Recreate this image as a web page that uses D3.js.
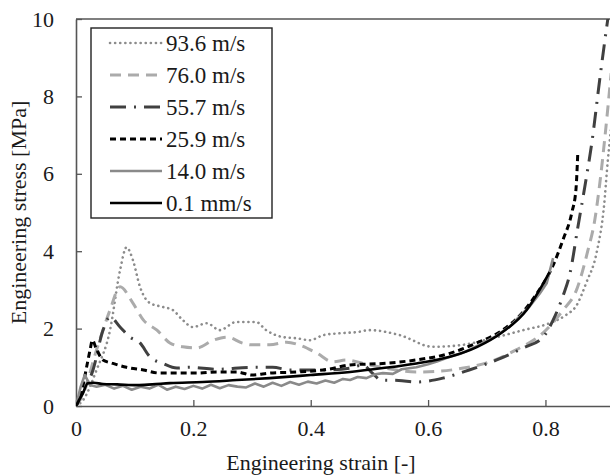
<!DOCTYPE html>
<html>
<head>
<meta charset="utf-8">
<script src="https://cdn.jsdelivr.net/npm/d3@7"></script>
<style>
    body { margin: 0; background: #fff; }
    svg, svg text { font-family: "Liberation Serif", "Times New Roman", Times, Tinos, "DejaVu Serif", "Noto Serif", serif !important; }
    text { fill: #1a1a1a; }
</style>
</head>
<body>
<div id="chart"></div>
<script>
// legend labels, top to bottom
var seriesNames = ["93.6 m/s", "76.0 m/s", "55.7 m/s", "25.9 m/s", "14.0 m/s", "0.1 mm/s"];
var xTicks = [0, 0.2, 0.4, 0.6, 0.8];
var yTicks = [0, 2, 4, 6, 8, 10];

// [strain, stress MPa]
var v936 = [[0,0],[0.012,0.15],[0.035,0.93],[0.058,1.96],[0.075,3.5],[0.086,4.1],[0.097,3.77],[0.109,3.08],[0.126,2.66],[0.148,2.56],[0.165,2.48],[0.182,2.22],[0.199,2.04],[0.223,2.14],[0.245,1.96],[0.273,2.17],[0.307,2.17],[0.324,1.96],[0.353,1.78],[0.376,1.75],[0.399,1.7],[0.421,1.83],[0.45,1.88],[0.479,1.91],[0.5,1.96],[0.552,1.83],[0.608,1.53],[0.654,1.57],[0.717,1.78],[0.762,1.96],[0.807,2.14],[0.835,2.35],[0.853,2.6],[0.87,3.2],[0.887,3.95],[0.9,5.2],[0.906,6.3],[0.912,7.2]];
var v760 = [[0,0],[0.012,0.3],[0.035,1.45],[0.058,2.48],[0.075,3.08],[0.097,2.66],[0.115,2.22],[0.138,1.96],[0.16,1.63],[0.182,1.53],[0.206,1.5],[0.234,1.7],[0.257,1.78],[0.285,1.62],[0.3,1.58],[0.33,1.58],[0.359,1.65],[0.38,1.58],[0.41,1.37],[0.438,1.14],[0.46,1.19],[0.489,1.1],[0.52,1.0],[0.58,0.88],[0.62,0.9],[0.66,0.98],[0.705,1.14],[0.75,1.45],[0.796,1.89],[0.83,2.48],[0.853,3.0],[0.872,4.0],[0.884,4.8],[0.893,5.8],[0.901,6.9],[0.912,8.6]];
var v557 = [[0,0],[0.012,0.35],[0.029,0.93],[0.046,1.96],[0.058,2.3],[0.075,2.04],[0.092,1.78],[0.109,1.63],[0.126,1.27],[0.148,1.1],[0.172,0.98],[0.194,1.0],[0.24,0.95],[0.3,1.0],[0.335,1.0],[0.365,0.93],[0.427,0.93],[0.467,0.98],[0.489,1.06],[0.505,0.85],[0.52,0.67],[0.55,0.66],[0.58,0.62],[0.625,0.72],[0.67,0.93],[0.717,1.19],[0.762,1.5],[0.796,1.78],[0.813,2.22],[0.83,2.85],[0.842,3.44],[0.855,4.6],[0.867,5.66],[0.879,6.8],[0.893,8.5],[0.906,9.97],[0.912,10.6]];
var v259 = [[0,0],[0.01,0.4],[0.018,1.0],[0.024,1.45],[0.028,1.7],[0.034,1.5],[0.046,1.19],[0.063,1.1],[0.086,1.0],[0.115,0.93],[0.143,0.85],[0.172,0.85],[0.206,0.85],[0.24,0.88],[0.274,0.88],[0.3,0.8],[0.33,0.85],[0.38,0.88],[0.43,0.95],[0.467,1.06],[0.523,1.1],[0.58,1.19],[0.637,1.36],[0.683,1.63],[0.727,1.96],[0.76,2.4],[0.785,2.9],[0.812,3.6],[0.83,4.3],[0.845,5.0],[0.852,5.6],[0.855,6.5]];
var v140 = [[0,0],[0.008,0.5],[0.015,0.8],[0.024,0.54],[0.035,0.5],[0.05,0.55],[0.065,0.45],[0.08,0.52],[0.095,0.42],[0.11,0.5],[0.125,0.45],[0.14,0.55],[0.155,0.42],[0.17,0.5],[0.185,0.44],[0.2,0.52],[0.215,0.45],[0.23,0.55],[0.245,0.46],[0.26,0.54],[0.275,0.5],[0.29,0.48],[0.305,0.58],[0.32,0.5],[0.335,0.6],[0.35,0.52],[0.365,0.62],[0.38,0.55],[0.395,0.63],[0.41,0.58],[0.425,0.66],[0.44,0.6],[0.455,0.7],[0.467,0.67],[0.48,0.75],[0.495,0.72],[0.51,0.82],[0.523,0.85],[0.54,0.83],[0.555,0.95],[0.58,1.0],[0.6,1.08],[0.615,1.15],[0.637,1.27],[0.655,1.35],[0.67,1.45],[0.694,1.63],[0.715,1.8],[0.739,2.05],[0.755,2.3],[0.773,2.57],[0.79,2.9],[0.802,3.17],[0.813,3.82]];
var v01 = [[0,0],[0.005,0.15],[0.012,0.34],[0.02,0.59],[0.03,0.6],[0.046,0.57],[0.07,0.56],[0.104,0.54],[0.13,0.56],[0.16,0.59],[0.216,0.62],[0.274,0.67],[0.33,0.72],[0.4,0.8],[0.467,0.88],[0.523,0.98],[0.58,1.1],[0.637,1.27],[0.683,1.52],[0.727,1.91],[0.768,2.48],[0.79,3.0],[0.807,3.46]];

var series = [
    {name: seriesNames[0], values: v936, color: "#8c8c8c", width: 2.6, dash: "0.1,5", cap: "round", smooth: true},
    {name: seriesNames[1], values: v760, color: "#ababab", width: 3, dash: "11,7", cap: "butt", smooth: true},
    {name: seriesNames[2], values: v557, color: "#404040", width: 3, dash: "16,8,2,8", cap: "butt", smooth: true},
    {name: seriesNames[3], values: v259, color: "#000000", width: 3, dash: "6,4", cap: "butt", smooth: true},
    {name: seriesNames[4], values: v140, color: "#8a8a8a", width: 2.6, dash: null, cap: "butt", smooth: false},
    {name: seriesNames[5], values: v01, color: "#000000", width: 2.6, dash: null, cap: "butt", smooth: true}
];

var FONT = '"Liberation Serif", "Times New Roman", Times, Tinos, "DejaVu Serif", serif';

var W = 610, H = 476,
    margin = {top: 19, right: 0, bottom: 70, left: 76},
    w = W - margin.left - margin.right,
    h = H - margin.top - margin.bottom;

var main = d3.select("#chart").append("svg")
    .attr("width", W)
    .attr("height", H)
    .attr("font-family", FONT),
    svg = main.append("g")
    .attr("transform", "translate(" + margin.left + "," + margin.top + ")");

var xScale = d3.scaleLinear().domain([0, 0.91]).range([0, w]),
    yScale = d3.scaleLinear().domain([0, 10]).range([h, 0]);

svg.append("clipPath")
    .attr("id", "clip")
    .append("rect")
    .attr("x", 0)
    .attr("y", 0)
    .attr("width", w)
    .attr("height", h);

// top border of plot area
svg.append("line")
    .attr("x1", 0).attr("x2", w)
    .attr("y1", 0).attr("y2", 0)
    .style("stroke", "#555").style("stroke-width", 1.3);

var xAxis = d3.axisBottom(xScale)
    .tickValues(xTicks)
    .tickSizeInner(-6)
    .tickSizeOuter(0)
    .tickPadding(22)
    .tickFormat(function(d) { return d === 0 ? "0" : d3.format(".1f")(d); });
var yAxis = d3.axisLeft(yScale)
    .tickValues(yTicks)
    .tickSizeInner(-6)
    .tickSizeOuter(0)
    .tickPadding(22);

var gx = svg.append("g")
    .attr("transform", "translate(0," + h + ")")
    .call(xAxis);
var gy = svg.append("g").call(yAxis);

[gx, gy].forEach(function(g) {
    g.attr("font-family", FONT).attr("font-size", 22);
    g.select(".domain").style("stroke", "#555").style("stroke-width", 1.6);
    g.selectAll(".tick line").style("stroke", "#555").style("stroke-width", 1.3);
    g.selectAll(".tick text")
        .style("font-family", FONT)
        .style("font-size", "22px")
        .style("fill", "#1a1a1a");
});
gx.selectAll(".tick text").attr("dy", "0.35em");

var line = d3.line()
    .x(function(d) { return xScale(d[0]); })
    .y(function(d) { return yScale(d[1]); });

var plot = svg.append("g").attr("clip-path", "url(#clip)");
series.forEach(function(s) {
    plot.append("path")
        .datum(s.values)
        .attr("d", line.curve(s.smooth ? d3.curveMonotoneX : d3.curveLinear))
        .style("fill", "none")
        .style("stroke", s.color)
        .style("stroke-width", s.width)
        .style("stroke-dasharray", s.dash)
        .style("stroke-linecap", s.cap)
        .style("stroke-linejoin", "round");
});

// axis titles
main.append("text")
    .attr("x", margin.left + xScale(0.4175))
    .attr("y", 470)
    .attr("text-anchor", "middle")
    .style("font-family", FONT)
    .style("font-size", "22px")
    .text("Engineering strain [-]");
main.append("text")
    .attr("transform", "translate(26," + (margin.top + h / 2) + ") rotate(-90)")
    .attr("text-anchor", "middle")
    .style("font-family", FONT)
    .style("font-size", "22px")
    .text("Engineering stress [MPa]");

// legend
var legend = main.append("g");
legend.append("rect")
    .attr("x", 91).attr("y", 28)
    .attr("width", 181).attr("height", 190)
    .style("fill", "#fff")
    .style("stroke", "#222")
    .style("stroke-width", 1.4);
series.forEach(function(s, i) {
    var y = 43 + i * 32;
    legend.append("line")
        .attr("x1", 110).attr("x2", 162)
        .attr("y1", y).attr("y2", y)
        .style("stroke", s.color)
        .style("stroke-width", s.width)
        .style("stroke-dasharray", s.dash)
        .style("stroke-linecap", s.cap);
    legend.append("text")
        .attr("x", 166)
        .attr("y", y + 8)
        .style("font-family", FONT)
        .style("font-size", "23px")
        .text(s.name);
});
</script>
</body>
</html>
